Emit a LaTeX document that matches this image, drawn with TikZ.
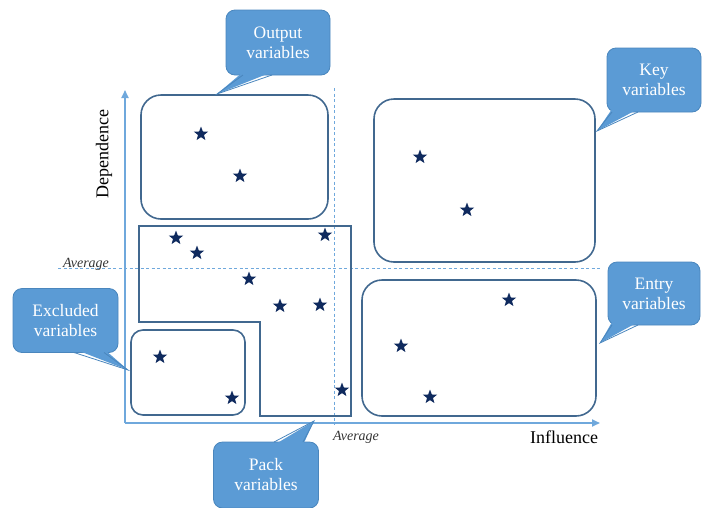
\documentclass[tikz,border=0pt]{standalone}
\usepackage{fontspec}
\setmainfont{Liberation Serif}
\usetikzlibrary{shapes.geometric,arrows.meta}
\definecolor{axisblue}{HTML}{6FA8DC}
\definecolor{boxline}{HTML}{41688F}
\definecolor{callfill}{HTML}{5B9BD5}
\definecolor{callline}{HTML}{4A86BD}
\definecolor{starcol}{HTML}{0F2A5E}
\tikzset{
  x=1pt, y=-1pt,
  quad/.style={draw=boxline, line width=1.6pt, rounded corners=20pt},
  callout/.style={fill=callfill, draw=callline, line width=0.8pt, rounded corners=9pt,
    text=white, font=\fontsize{17.5}{20}\selectfont, align=center, inner sep=0pt},
  axisline/.style={draw=axisblue, line width=1.8pt, -{Triangle[length=8pt,width=7pt]}},
  avgline/.style={draw=axisblue, line width=0.9pt, dash pattern=on 3pt off 2.5pt},
  pt/.style={star, star points=5, star point ratio=2.4, fill=starcol, inner sep=0pt, minimum size=15pt},
  avglabel/.style={font=\itshape\fontsize{14}{16}\selectfont, text=black!80},
  axlabel/.style={font=\fontsize{18}{20}\selectfont}
}
\begin{document}
\begin{tikzpicture}
\useasboundingbox (0,0) rectangle (702,507);
% average lines
\coordinate (hl) at (58,268); \coordinate (hr) at (600,268);
\coordinate (vt) at (334,88); \coordinate (vb) at (334,424);
\draw[avgline] (hl) -- (hr);
\draw[avgline] (vt) -- (vb);
% axes
\coordinate (o) at (125,423);
\coordinate (ytop) at (125,90);
\coordinate (xend) at (600,423);
\draw[axisline] (o) -- (ytop);
\draw[axisline] (o) -- (xend);
\node[axlabel, rotate=90] (dep) at (104,154) {Dependence};
\node[axlabel] (inf) at (564,437) {Influence};
\node[avglabel] (avy) at (86,264) {Average};
\node[avglabel] (avx) at (356,437) {Average};
% quadrant boxes
\draw[quad] (141,95) rectangle (328,219);
\draw[quad] (374,99) rectangle (595,262);
\draw[quad] (362,280) rectangle (596,416);
\draw[quad, rounded corners=12pt] (131,330) rectangle (245,415);
\draw[draw=boxline, line width=1.6pt] (139,226) -- (351,226) -- (351,416) -- (260,416) -- (260,322) -- (139,322) -- cycle;
% stars
\foreach \n/\x/\y in {s1/201/134, s2/240/176, s3/420/157, s4/467/210, s5/176/238, s6/197/253, s7/325/235, s8/249/279, s9/280/306, s10/320/305, s11/342/390, s12/160/357, s13/232/398, s14/509/300, s15/401/346, s16/430/397}
  \node[pt] (\n) at (\x,\y) {};
% callouts
% Output
\node[callout, minimum width=104pt, minimum height=65pt] (cout) at (278,42.5) {Output\\variables};
\coordinate (tout) at (217,94);
\fill[callfill] (243,72) -- (tout) -- (272,72) -- cycle;
\draw[callline, line width=0.8pt] (243,75) -- (tout) -- (272,75);
% Key
\node[callout, minimum width=94pt, minimum height=64pt] (ckey) at (654,80) {Key\\variables};
\coordinate (tkey) at (597,131);
\fill[callfill] (612,109) -- (tkey) -- (638,109) -- cycle;
\draw[callline, line width=0.8pt] (612,112) -- (tkey) -- (638,112);
% Entry
\node[callout, minimum width=92pt, minimum height=63pt] (cent) at (654,293.5) {Entry\\variables};
\coordinate (tent) at (600,343);
\fill[callfill] (612,322) -- (tent) -- (638,322) -- cycle;
\draw[callline, line width=0.8pt] (612,325) -- (tent) -- (638,325);
% Excluded
\node[callout, minimum width=105pt, minimum height=64pt] (cexc) at (65.5,320.5) {Excluded\\variables};
\coordinate (texc) at (128,370);
\fill[callfill] (74,349) -- (texc) -- (104,349) -- cycle;
\draw[callline, line width=0.8pt] (74,352.5) -- (texc) -- (104,352.5);
% Pack
\node[callout, minimum width=105pt, minimum height=66pt] (cpack) at (266,475) {Pack\\variables};
\coordinate (tpack) at (314,421);
\fill[callfill] (274,445) -- (tpack) -- (303,445) -- cycle;
\draw[callline, line width=0.8pt] (274,442) -- (tpack) -- (303,442);
\end{tikzpicture}
\end{document}
